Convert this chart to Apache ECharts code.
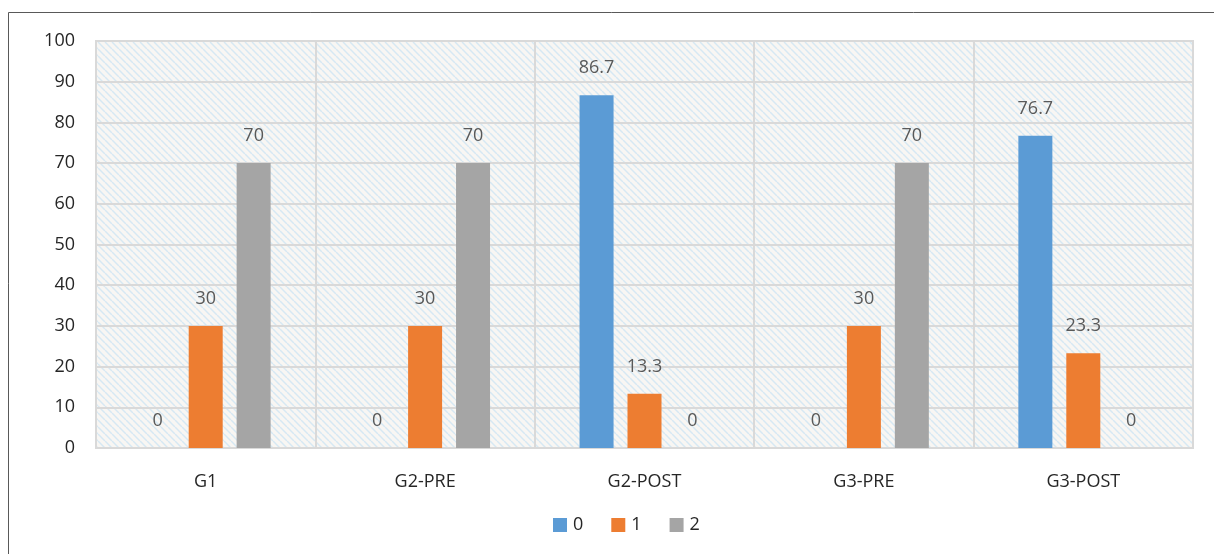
<!DOCTYPE html>
<html>
<head>
<meta charset="utf-8">
<script src="https://cdn.jsdelivr.net/npm/echarts@6/dist/echarts.min.js"></script>
<style>
  html, body { margin: 0; padding: 0; background: #ffffff; }
  #chart { width: 1214px; height: 554px; }
</style>
</head>
<body>
<div id="chart"></div>
<script>
// Groups and the share (%) of each score within them
const categories = ['G1', 'G2-PRE', 'G2-POST', 'G3-PRE', 'G3-POST'];
const score0 = [0, 0, 86.7, 0, 76.7];
const score1 = [30, 30, 13.3, 30, 23.3];
const score2 = [70, 70, 0, 70, 0];
const seriesNames = ['0', '1', '2'];
const yTicks = { min: 0, max: 100, interval: 10 };

const FONT = '"Open Sans", "Noto Sans", sans-serif';

// Light diagonal hatch used as the plot-area fill
function hatchPattern() {
  const size = 7;
  const c = document.createElement('canvas');
  c.width = size; c.height = size;
  const ctx = c.getContext('2d');
  ctx.fillStyle = '#f8f6f3';
  ctx.fillRect(0, 0, size, size);
  ctx.strokeStyle = '#d6e8f3';
  ctx.lineWidth = 1.5;
  for (let k = -size; k <= size; k += size) {
    ctx.beginPath();
    ctx.moveTo(k, 0);
    ctx.lineTo(k + size, size);
    ctx.stroke();
  }
  return { image: c, repeat: 'repeat' };
}

const label = {
  show: true,
  position: 'top',
  distance: 18,
  color: '#595959',
  fontSize: 18,
  fontFamily: FONT
};

function barSeries(name, data, color) {
  return {
    name: name,
    type: 'bar',
    data: data,
    barWidth: 34,
    barGap: '41%',
    itemStyle: { color: color },
    label: label
  };
}

const chart = echarts.init(document.getElementById('chart'));
chart.setOption({
  animation: false,
  backgroundColor: '#ffffff',
  graphic: [{
    type: 'rect',
    shape: { x: 8.5, y: 12.5, width: 1300, height: 700 },
    style: { fill: 'none', stroke: '#595959', lineWidth: 1 },
    silent: true,
    z: -10
  }],
  grid: {
    left: 96, right: 21, top: 41, bottom: 106,
    show: true,
    backgroundColor: hatchPattern(),
    borderColor: '#d9d9d9',
    borderWidth: 2
  },
  legend: {
    data: seriesNames,
    top: 511,
    left: 548,
    itemWidth: 14,
    itemHeight: 14,
    itemGap: 28,
    icon: 'rect',
    textStyle: { color: '#262626', fontSize: 18, fontFamily: FONT, padding: [0, 0, 0, 1] }
  },
  xAxis: {
    type: 'category',
    data: categories,
    axisLine: { show: false },
    axisTick: { show: false },
    splitLine: { show: true, lineStyle: { color: '#d9d9d9', width: 2 } },
    axisLabel: { color: '#262626', fontSize: 18, fontFamily: FONT, margin: 25 }
  },
  yAxis: {
    type: 'value',
    min: yTicks.min, max: yTicks.max, interval: yTicks.interval,
    axisLine: { show: false },
    axisTick: { show: false },
    splitLine: { show: true, lineStyle: { color: '#d9d9d9', width: 2 } },
    axisLabel: { color: '#262626', fontSize: 18, fontFamily: FONT, margin: 21 }
  },
  series: [
    barSeries(seriesNames[0], score0, '#5b9bd5'),
    barSeries(seriesNames[1], score1, '#ed7d31'),
    barSeries(seriesNames[2], score2, '#a5a5a5')
  ]
});
</script>
</body>
</html>
